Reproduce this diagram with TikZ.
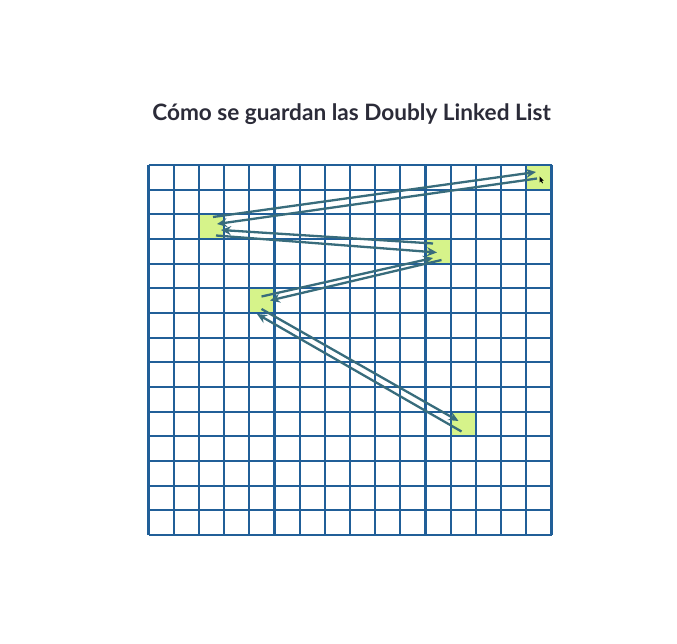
\documentclass[tikz,border=0pt]{standalone}
\usepackage{fontspec}
\setmainfont{Lato}
\usetikzlibrary{arrows.meta}
\definecolor{gridblue}{HTML}{215F98}
\definecolor{arrowteal}{HTML}{386C7C}
\definecolor{cellgreen}{HTML}{D6F38A}
\definecolor{titlecol}{HTML}{2B2B38}
\tikzset{
  gridline/.style={draw=gridblue, line width=2.2pt},
  memcell/.style={fill=cellgreen, draw=none, minimum width=25.19pt, minimum height=24.67pt, inner sep=0pt},
  link/.style={draw=arrowteal, line width=2.3pt, -{Stealth[length=10pt,width=9pt]}},
}
\begin{document}
\begin{tikzpicture}[x=1pt,y=-1pt]
\useasboundingbox[fill=white] (0,0) rectangle (677,644);
% title
\node[font=\bfseries\fontsize{22.6}{27}\selectfont, text=titlecol] (title) at (351.5,114) {Cómo se guardan las Doubly Linked List};
% highlighted cells (column, row) -> centre
\node[memcell] (c1) at ({148.5+15.5*25.1875},{165+0.5*24.667}) {};
\node[memcell] (c2) at ({148.5+2.5*25.1875},{165+2.5*24.667}) {};
\node[memcell] (c3) at ({148.5+11.5*25.1875},{165+3.5*24.667}) {};
\node[memcell] (c4) at ({148.5+4.5*25.1875},{165+5.5*24.667}) {};
\node[memcell] (c5) at ({148.5+12.5*25.1875},{165+10.5*24.667}) {};
% grid
\foreach \i in {0,...,16} \draw[gridline] ({148.5+\i*25.1875},165) -- ++(0,370);
\foreach \j in {0,...,15} \draw[gridline] (148.5,{165+\j*24.667}) -- ++(403,0);
% arrow end points
\coordinate (a1s) at (213,217);   \coordinate (a1e) at (536,172);
\coordinate (a2s) at (537,178.5); \coordinate (a2e) at (217,224);
\coordinate (a3s) at (433,243.5); \coordinate (a3e) at (221,230);
\coordinate (a4s) at (216,235.5); \coordinate (a4e) at (437,252.5);
\coordinate (a5s) at (261.5,296.5); \coordinate (a5e) at (433,258);
\coordinate (a6s) at (441.5,260); \coordinate (a6e) at (270,300.5);
\coordinate (a7s) at (461.5,431.5); \coordinate (a7e) at (257,314);
\coordinate (a8s) at (261.5,309); \coordinate (a8e) at (458.5,421);
\draw[link] (a1s) -- (a1e);
\draw[link] (a2s) -- (a2e);
\draw[link] (a3s) -- (a3e);
\draw[link] (a4s) -- (a4e);
\draw[link] (a5s) -- (a5e);
\draw[link] (a6s) -- (a6e);
\draw[link] (a7s) -- (a7e);
\draw[link] (a8s) -- (a8e);
% mouse pointer
\coordinate (ptr) at (539.5,176.5);
\fill[black] (ptr) -- ++(0,6) -- ++(1.4,-1.3) -- ++(1.3,2.2) -- ++(0.8,-0.5) -- ++(-1.2,-2.1) -- ++(2,-0.2) -- cycle;
\end{tikzpicture}
\end{document}
